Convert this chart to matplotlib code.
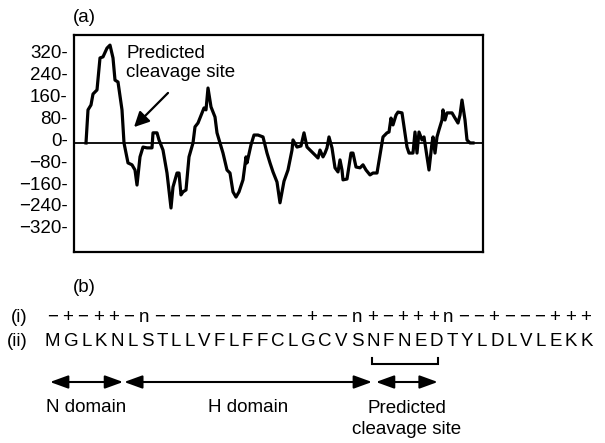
import matplotlib
matplotlib.use("Agg")
import matplotlib.pyplot as plt

plt.rcParams['font.family'] = ['Liberation Sans', 'DejaVu Sans']

# ---------------- data: panel (a) hydropathy profile ----------------
positions = [0, 2, 5, 7, 11, 14, 17, 21, 24, 27, 29, 32, 36, 38, 42, 46, 49, 51, 54, 57,
             61, 66, 67, 71, 73, 77, 81, 85, 87, 91, 93, 95, 97, 100, 103, 107, 109, 112,
             116, 118, 120, 122, 125, 129, 131, 134, 137, 141, 144, 147, 150, 153, 157,
             160, 161, 165, 168, 172, 177, 181, 184, 187, 191, 194, 198, 202, 206, 207,
             211, 215, 218, 221, 226, 229, 232, 234, 237, 239, 241, 243, 246, 249, 252,
             254, 256, 257, 261, 265, 267, 270, 274, 277, 280, 284, 287, 291, 294, 297,
             301, 303, 305, 307, 310, 312, 316, 318, 321, 323, 327, 329, 331, 333, 336,
             338, 341, 343, 346, 347, 349, 351, 353, 356, 357, 359, 361, 366, 369, 372,
             374, 376, 379, 381, 384, 387]
values = [0, 121, 139, 179, 194, 311, 315, 347, 358, 311, 230, 223, 121, 0, -73, -80, -99,
          -154, -51, -15, -18, -18, 37, 37, 11, -26, -110, -238, -161, -110, -110, -190,
          -179, -172, -51, 0, 59, 73, 110, 128, 121, 201, 132, 95, 37, 0, -37, -99, -110,
          -179, -198, -179, -135, -51, -73, -7, 29, 29, 22, -37, -73, -106, -143, -219,
          -140, -99, -26, 11, -15, -11, 37, -15, -33, -44, -55, -26, -51, -37, -18, 22,
          -18, -91, -106, -62, -99, -135, -132, -37, -37, -88, -91, -80, -99, -117, -110,
          -110, -44, 22, 37, 40, 91, 66, 102, 113, 110, 59, -15, -37, -37, 40, -37, 40,
          11, 22, -51, -99, 0, 22, -37, 22, 48, 84, 121, 84, 110, 110, 91, 73, 102, 157,
          84, 11, 0, 0]

tick_values = [320, 240, 160, 80, 0, -80, -160, -240, -320]
tick_labels = [("%d-" % t) if t >= 0 else ("\u2212%d-" % -t) for t in tick_values]
TICK_SHIFT = 13  # labels sit slightly above the baseline in the original

# ---------------- data: panel (b) sequence ----------------
sequence = "MGLKNLSTLLVFLFFCLGCVSNFNEDTYLDLVLEKK"
row_i = "\u2212+\u2212++\u2212n" + "\u2212" * 10 + "+\u2212\u2212n+\u2212+++n\u2212\u2212+\u2212\u2212\u2212+++"
domain_names = ["N domain", "H domain", "Predicted\ncleavage site"]
domain_starts = [0.33, 5.2, 21.74]
domain_ends = [5.13, 21.48, 25.8]
bracket_range = (21.5, 25.8)

FS = 13.5
W, H = 605, 443
fig = plt.figure(figsize=(W / 100, H / 100), dpi=100)

# ---------------- panel (a) ----------------
ax = fig.add_axes([74 / W, (H - 252) / H, 409 / W, 217 / H])
ax.plot(positions, values, color='black', lw=2.3, solid_joinstyle='round', zorder=3)
ax.axhline(0, color='black', lw=1.3, zorder=2)
ax.set_xlim(-12, 397)
ax.set_ylim(-399, 395)
ax.set_xticks([])
ax.set_yticks([t + TICK_SHIFT for t in tick_values])
ax.set_yticklabels(tick_labels)
ax.tick_params(axis='y', length=0, pad=4.5, labelsize=FS)
for sp in ax.spines.values():
    sp.set_linewidth(1.6)

ax.text(40, 291, "Predicted\ncleavage site", fontsize=FS, ha='left', va='center',
        linespacing=1.15)
ax.annotate("", xy=(48, 58), xytext=(82, 183),
            arrowprops=dict(arrowstyle='-|>,head_length=0.6,head_width=0.3', lw=1.6,
                            color='black', shrinkA=0, shrinkB=0, mutation_scale=15))

fig.text(73 / W, 1 - 17 / H, "(a)", fontsize=FS, ha='left', va='center')
fig.text(73 / W, 1 - 288 / H, "(b)", fontsize=FS, ha='left', va='center')

# ---------------- panel (b) ----------------
n_res = len(sequence)
axb = fig.add_axes([45 / W, 0, 548 / W, 1])
axb.set_xlim(0, n_res)
axb.set_ylim(H, 0)
axb.axis('off')

y_i, y_ii, y_arrow, y_lab = 317, 342, 382, 407
axb.text(-2.25, y_i, "(i)", fontsize=FS, ha='left', va='center')
axb.text(-2.5, y_ii, "(ii)", fontsize=FS, ha='left', va='center')
for k, ch in enumerate(row_i):
    axb.text(k + 0.5, y_i, ch, fontsize=FS, ha='center', va='center')

# sequence: proportional letters with even tracking across the full width
renderer = fig.canvas.get_renderer()
letters = [axb.text(0, y_ii, ch, fontsize=FS, ha='left', va='center') for ch in sequence]
widths = [t.get_window_extent(renderer).width for t in letters]
span_px = axb.get_window_extent(renderer).width
gap = (span_px - sum(widths)) / (n_res - 1)
px_per_unit = span_px / n_res
cur = 0.0
for t, w in zip(letters, widths):
    t.set_x(cur / px_per_unit)
    cur += w + gap

b0, b1 = bracket_range
axb.plot([b0, b0, b1, b1], [358, 363.5, 363.5, 358], color='black', lw=1.5,
         solid_joinstyle='miter')

for name, s, e in zip(domain_names, domain_starts, domain_ends):
    axb.annotate("", xy=(e, y_arrow), xytext=(s, y_arrow),
                 arrowprops=dict(arrowstyle='<|-|>,head_length=0.55,head_width=0.2',
                                 lw=1.5, color='black', shrinkA=0, shrinkB=0,
                                 mutation_scale=20))
    nlines = name.count("\n") + 1
    yc = y_lab + (nlines - 1) * 12
    axb.text((s + e) / 2, yc, name, fontsize=FS, ha='center', va='center',
             linespacing=1.25, multialignment='center')

fig.savefig("out.png", dpi=100)
